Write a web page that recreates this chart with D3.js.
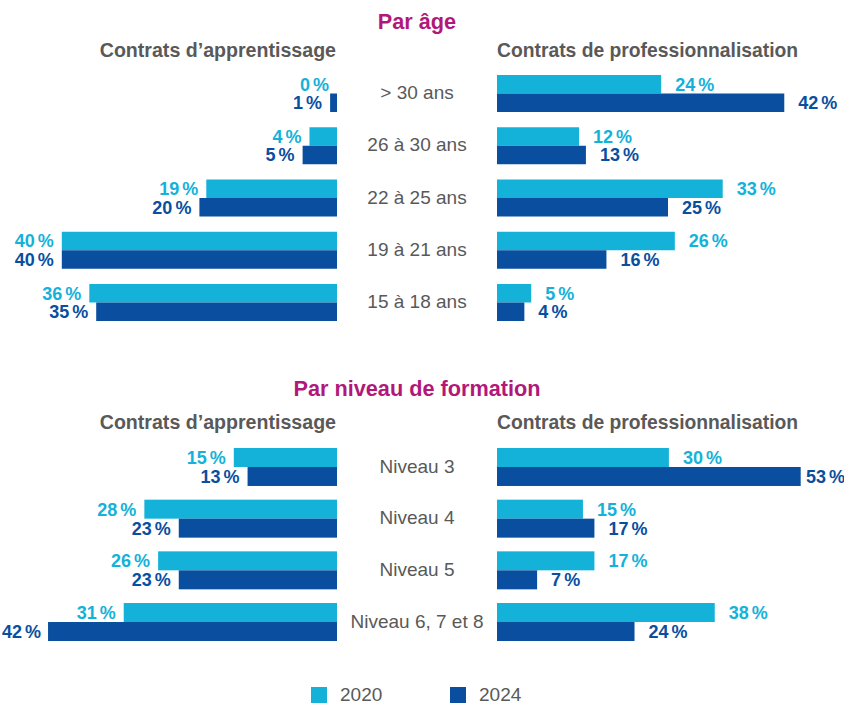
<!DOCTYPE html>
<html><head><meta charset="utf-8">
<script src="https://cdn.jsdelivr.net/npm/d3@7"></script>
<style>
body{margin:0;background:#fff;}
svg{display:block;font-family:"Liberation Sans",Arial,sans-serif;}
</style></head>
<body><svg id="c" width="844" height="704"></svg>
<script>
// ---- data ----
const years = ["2020", "2024"];
const ageCategories = ["> 30 ans", "26 à 30 ans", "22 à 25 ans", "19 à 21 ans", "15 à 18 ans"];
const ageApprent2020 = [0, 4, 19, 40, 36];
const ageApprent2024 = [1, 5, 20, 40, 35];
const ageProf2020 = [24, 12, 33, 26, 5];
const ageProf2024 = [42, 13, 25, 16, 4];
const levelCategories = ["Niveau 3", "Niveau 4", "Niveau 5", "Niveau 6, 7 et 8"];
const levelApprent2020 = [15, 28, 26, 31];
const levelApprent2024 = [13, 23, 23, 42];
const levelProf2020 = [30, 15, 17, 38];
const levelProf2024 = [53, 17, 7, 24];
const sectionTitles = ["Par âge", "Par niveau de formation"];
const panelTitles = ["Contrats d’apprentissage", "Contrats de professionnalisation"];

const colors = {"2020": "#14b2d9", "2024": "#0a4f9f"};
const grey = "#595959", magenta = "#b2177a";
const W = 844;

const svg = d3.select("#c");
const leftEdge = 337, rightEdge = 497, midX = 417;

function pctText(sel, v) {
  sel.text(null);
  sel.append("tspan").text(v);
  sel.append("tspan").attr("dx", 3).text("%");
}

function section(opts) {
  const g = svg.append("g");
  g.append("text").attr("x", midX).attr("y", opts.titleY).attr("text-anchor", "middle")
    .attr("fill", magenta).attr("font-weight", "bold").attr("font-size", 21.7).text(opts.title);
  g.append("text").attr("x", leftEdge - 1).attr("y", opts.headY).attr("text-anchor", "end")
    .attr("fill", grey).attr("font-weight", "bold").attr("font-size", 19.6).text(panelTitles[0]);
  g.append("text").attr("x", rightEdge).attr("y", opts.headY).attr("text-anchor", "start")
    .attr("fill", grey).attr("font-weight", "bold").attr("font-size", 19.3).text(panelTitles[1]);

  const y0 = d3.scaleBand().domain(opts.cats).range(opts.yRange).paddingInner(opts.pad).paddingOuter(0);
  const y1 = d3.scaleBand().domain(years).range([0, y0.bandwidth()]);
  const xl = d3.scaleLinear().domain([0, 100]).range([0, opts.kl * 100]);
  const xr = d3.scaleLinear().domain([0, 100]).range([0, opts.kr * 100]);

  const rows = opts.cats.map((c, i) => ({
    cat: c,
    left: {"2020": opts.l20[i], "2024": opts.l24[i]},
    right: {"2020": opts.r20[i], "2024": opts.r24[i]}
  }));

  const row = g.selectAll("g.row").data(rows).join("g").attr("class", "row")
    .attr("transform", d => `translate(0,${y0(d.cat)})`);

  row.append("text").attr("x", midX).attr("y", y0.bandwidth() / 2 - 1).attr("dy", "0.35em")
    .attr("text-anchor", "middle").attr("fill", grey).attr("font-size", 19).text(d => d.cat);

  years.forEach(yr => {
    row.append("rect").attr("x", d => leftEdge - xl(d.left[yr])).attr("y", y1(yr))
      .attr("width", d => xl(d.left[yr])).attr("height", y1.bandwidth()).attr("fill", colors[yr]);
    row.append("text").attr("x", d => Math.max(leftEdge - xl(d.left[yr]) - 8, 41)).attr("y", y1(yr) + y1.bandwidth() / 2)
      .attr("dy", "0.36em").attr("text-anchor", "end").attr("fill", colors[yr])
      .attr("font-weight", "bold").attr("font-size", 18).each(function (d) { pctText(d3.select(this), d.left[yr]); });
    row.append("rect").attr("x", rightEdge).attr("y", y1(yr))
      .attr("width", d => xr(d.right[yr])).attr("height", y1.bandwidth()).attr("fill", colors[yr]);
    row.append("text").attr("y", y1(yr) + y1.bandwidth() / 2).attr("dy", "0.36em").attr("text-anchor", "start")
      .attr("fill", colors[yr]).attr("font-weight", "bold").attr("font-size", 18)
      .each(function (d) {
        const t = d3.select(this);
        pctText(t, d.right[yr]);
        const w = this.getComputedTextLength();
        t.attr("x", Math.min(rightEdge + xr(d.right[yr]) + 14, W - w - 2));
      });
  });
}

section({title: sectionTitles[0], titleY: 29, headY: 57, cats: ageCategories,
  yRange: [75, 321], pad: 15.25 / 52.25, kl: 6.88, kr: 6.84,
  l20: ageApprent2020, l24: ageApprent2024, r20: ageProf2020, r24: ageProf2024});
section({title: sectionTitles[1], titleY: 396, headY: 429, cats: levelCategories,
  yRange: [448, 641], pad: 13.7 / 51.7, kl: 6.88, kr: 5.73,
  l20: levelApprent2020, l24: levelApprent2024, r20: levelProf2020, r24: levelProf2024});

// legend
const legend = svg.append("g");
const lx = d3.scalePoint().domain(years).range([311, 450]);
years.forEach(yr => {
  legend.append("rect").attr("x", lx(yr)).attr("y", 687).attr("width", 16).attr("height", 16).attr("fill", colors[yr]);
  legend.append("text").attr("x", lx(yr) + 29).attr("y", 701).attr("fill", grey).attr("font-size", 19).text(yr);
});
</script></body></html>
